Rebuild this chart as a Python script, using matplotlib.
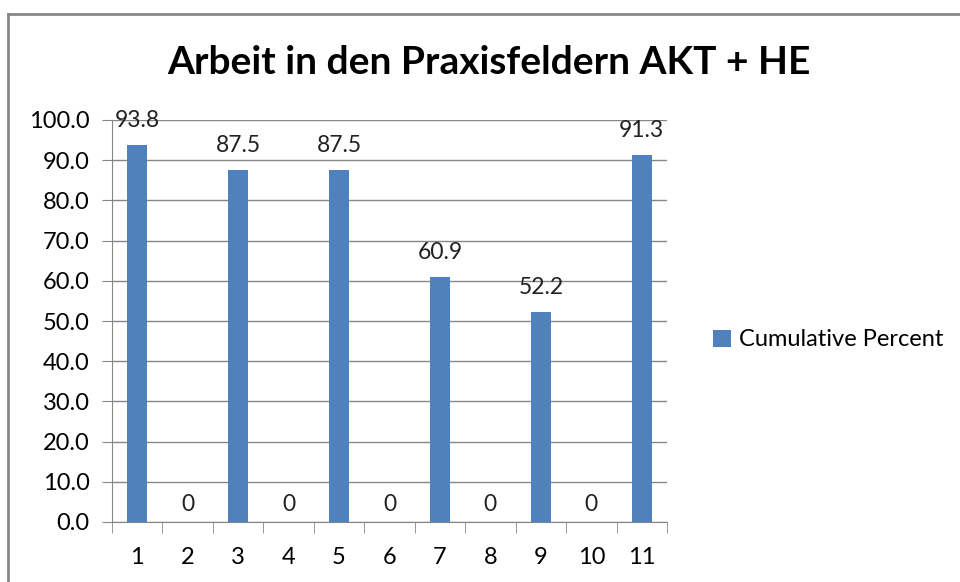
import matplotlib.pyplot as plt
import numpy as np
from matplotlib.lines import Line2D

categories = ['1', '2', '3', '4', '5', '6', '7', '8', '9', '10', '11']
values = [93.8, 0, 87.5, 0, 87.5, 0, 60.9, 0, 52.2, 0, 91.3]
labels = ['93.8', '0', '87.5', '0', '87.5', '0', '60.9', '0', '52.2', '0', '91.3']
yticks = [0, 10, 20, 30, 40, 50, 60, 70, 80, 90, 100]

plt.rcParams['font.family'] = ['Lato', 'DejaVu Sans']
W, H = 960, 582
fig = plt.figure(figsize=(9.6, 5.82), dpi=100)
ax = fig.add_axes([112/W, 1-522/H, (667-112)/W, (522-120)/H])

x = np.arange(len(categories))
bars = ax.bar(x, values, width=0.4, color='#4F81BD', zorder=3, label='Cumulative Percent')
for xi, v, lab in zip(x, values, labels):
    ax.annotate(lab, (xi, v), xytext=(0, 10 if v > 0 else 5), textcoords='offset points',
                ha='center', va='bottom', fontsize=16.5, color='#222222')

ax.set_xlim(-0.5, len(categories) - 0.5)
ax.set_ylim(0, 100)
ax.set_yticks(yticks)
ax.set_yticklabels(['%.1f' % t for t in yticks], fontsize=17)
ax.set_xticks(x)
ax.set_xticklabels(categories, fontsize=17)
ax.tick_params(axis='x', length=0, pad=18)
ax.set_xticks(np.arange(-0.5, len(categories)), minor=True)
ax.tick_params(axis='x', which='minor', length=8, color='#868686', direction='out')
ax.tick_params(axis='y', length=7, color='#868686', pad=9)
ax.grid(axis='y', color='#868686', linewidth=1, zorder=0)
for s in ['top', 'right']:
    ax.spines[s].set_visible(False)
for s in ['left', 'bottom']:
    ax.spines[s].set_color('#868686')

fig.text(489/W, 1-63/H, 'Arbeit in den Praxisfeldern AKT + HE', ha='center', va='center',
         fontsize=28, fontweight='bold')

fig.legend(handles=[bars], loc='center left', bbox_to_anchor=(692/W, 1-340/H),
           frameon=False, fontsize=17, handlelength=0.75, handleheight=0.75, handletextpad=0.35)

# outer chart border
fig.add_artist(Line2D([8/W, 1.0], [1-14/H, 1-14/H], color='#888888', linewidth=2))
fig.add_artist(Line2D([8/W, 8/W], [0, 1-14/H], color='#888888', linewidth=2))

fig.savefig('out.png', dpi=100)
